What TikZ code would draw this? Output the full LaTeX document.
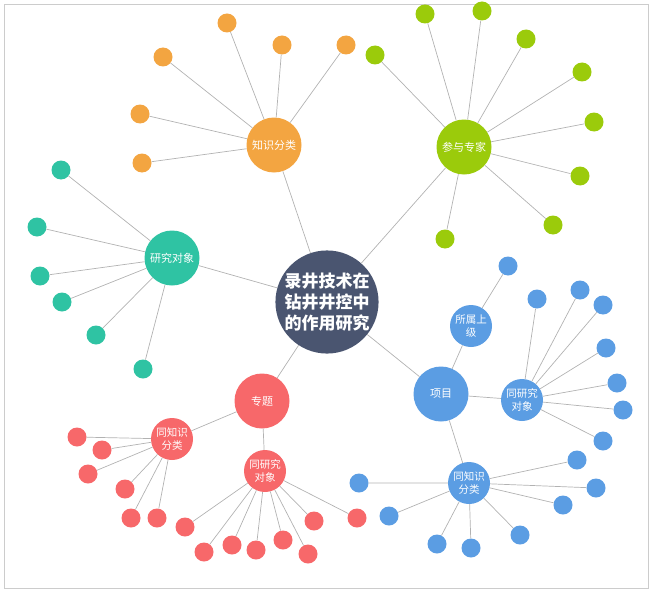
\documentclass[tikz,border=0pt]{standalone}
\usepackage{fontspec}
\setmainfont{Noto Sans CJK SC}
\usepackage{xcolor}
\usepackage{tikz}

\definecolor{coreblue}{HTML}{4A5570}
\definecolor{orangeC}{HTML}{F3A541}
\definecolor{greenC}{HTML}{9BCB0B}
\definecolor{tealC}{HTML}{2FC3A3}
\definecolor{redC}{HTML}{F7686A}
\definecolor{blueC}{HTML}{5B9DE3}

\begin{document}
\begin{tikzpicture}[x=1pt, y=-1pt,
    core/.style={circle, fill=coreblue, text=white, minimum size=98pt, inner sep=0pt, align=center, font=\bfseries\fontsize{17}{21}\selectfont},
    hub/.style={circle, fill=#1, text=white, minimum size=55pt, inner sep=0pt, align=center, font=\fontsize{11}{14}\selectfont},
    sub/.style={circle, fill=#1, text=white, minimum size=42pt, inner sep=0pt, align=center, font=\fontsize{10.5}{13.5}\selectfont},
    leaf/.style={circle, fill=#1, minimum size=19pt, inner sep=0pt},
    link/.style={draw=black!30, line width=0.7pt}]

    \useasboundingbox (0,0) rectangle (652,591);
    \draw [black!20] (4,4) rectangle (648,588);

    \node [core] (core) at (327,302) {录井技术在\\钻井井控中\\的作用研究};

    % main branches
    \node [hub=orangeC] (know) at (274,145) {知识分类};
    \node [hub=greenC] (expert) at (464,147) {参与专家};
    \node [hub=tealC] (object) at (172,258) {研究对象};
    \node [hub=redC] (topic) at (262,401) {专题};
    \node [hub=blueC] (project) at (441,394) {项目};

    \node [sub=redC] (tknow) at (172,439) {同知识\\分类};
    \node [sub=redC] (tobj) at (265,471) {同研究\\对象};
    \node [sub=blueC] (pup) at (471,326) {所属上\\级};
    \node [sub=blueC] (pobj) at (522,400) {同研究\\对象};
    \node [sub=blueC] (pknow) at (469,483) {同知识\\分类};

    % leaves
    \node [leaf=orangeC] (know1) at (227,23) {};
    \node [leaf=orangeC] (know2) at (282,45) {};
    \node [leaf=orangeC] (know3) at (346,45) {};
    \node [leaf=orangeC] (know4) at (163,57) {};
    \node [leaf=orangeC] (know5) at (140,114) {};
    \node [leaf=orangeC] (know6) at (142,163) {};

    \node [leaf=greenC] (expert1) at (425,14) {};
    \node [leaf=greenC] (expert2) at (482,11) {};
    \node [leaf=greenC] (expert3) at (526,39) {};
    \node [leaf=greenC] (expert4) at (375,55) {};
    \node [leaf=greenC] (expert5) at (582,72) {};
    \node [leaf=greenC] (expert6) at (594,122) {};
    \node [leaf=greenC] (expert7) at (580,176) {};
    \node [leaf=greenC] (expert8) at (553,225) {};
    \node [leaf=greenC] (expert9) at (445,239) {};

    \node [leaf=tealC] (object1) at (61,170) {};
    \node [leaf=tealC] (object2) at (37,227) {};
    \node [leaf=tealC] (object3) at (40,276) {};
    \node [leaf=tealC] (object4) at (62,302) {};
    \node [leaf=tealC] (object5) at (96,335) {};
    \node [leaf=tealC] (object6) at (143,369) {};

    \node [leaf=redC] (tknow1) at (77,437) {};
    \node [leaf=redC] (tknow2) at (102,450) {};
    \node [leaf=redC] (tknow3) at (88,474) {};
    \node [leaf=redC] (tknow4) at (125,489) {};
    \node [leaf=redC] (tknow5) at (131,518) {};
    \node [leaf=redC] (tknow6) at (157,518) {};

    \node [leaf=redC] (tobj1) at (185,527) {};
    \node [leaf=redC] (tobj2) at (204,552) {};
    \node [leaf=redC] (tobj3) at (232,545) {};
    \node [leaf=redC] (tobj4) at (256,550) {};
    \node [leaf=redC] (tobj5) at (283,540) {};
    \node [leaf=redC] (tobj6) at (308,554) {};
    \node [leaf=redC] (tobj7) at (314,521) {};
    \node [leaf=redC] (tobj8) at (357,518) {};

    \node [leaf=blueC] (pup1) at (508,266) {};

    \node [leaf=blueC] (pobj1) at (537,299) {};
    \node [leaf=blueC] (pobj2) at (580,290) {};
    \node [leaf=blueC] (pobj3) at (603,305) {};
    \node [leaf=blueC] (pobj4) at (606,348) {};
    \node [leaf=blueC] (pobj5) at (617,383) {};
    \node [leaf=blueC] (pobj6) at (623,410) {};
    \node [leaf=blueC] (pobj7) at (603,441) {};

    \node [leaf=blueC] (pknow1) at (359,483) {};
    \node [leaf=blueC] (pknow2) at (389,516) {};
    \node [leaf=blueC] (pknow3) at (437,544) {};
    \node [leaf=blueC] (pknow4) at (471,548) {};
    \node [leaf=blueC] (pknow5) at (520,535) {};
    \node [leaf=blueC] (pknow6) at (563,505) {};
    \node [leaf=blueC] (pknow7) at (596,488) {};
    \node [leaf=blueC] (pknow8) at (577,460) {};

    % links
    \draw [link] (core) -- (know);
    \draw [link] (core) -- (expert);
    \draw [link] (core) -- (object);
    \draw [link] (core) -- (topic);
    \draw [link] (core) -- (project);

    \draw [link] (topic) -- (tknow);
    \draw [link] (topic) -- (tobj);
    \draw [link] (project) -- (pup);
    \draw [link] (project) -- (pobj);
    \draw [link] (project) -- (pknow);

    \draw [link] (know) -- (know1) (know) -- (know2) (know) -- (know3)
        (know) -- (know4) (know) -- (know5) (know) -- (know6);
    \draw [link] (expert) -- (expert1) (expert) -- (expert2) (expert) -- (expert3)
        (expert) -- (expert4) (expert) -- (expert5) (expert) -- (expert6)
        (expert) -- (expert7) (expert) -- (expert8) (expert) -- (expert9);
    \draw [link] (object) -- (object1) (object) -- (object2) (object) -- (object3)
        (object) -- (object4) (object) -- (object5) (object) -- (object6);
    \draw [link] (tknow) -- (tknow1) (tknow) -- (tknow2) (tknow) -- (tknow3)
        (tknow) -- (tknow4) (tknow) -- (tknow5) (tknow) -- (tknow6);
    \draw [link] (tobj) -- (tobj1) (tobj) -- (tobj2) (tobj) -- (tobj3) (tobj) -- (tobj4)
        (tobj) -- (tobj5) (tobj) -- (tobj6) (tobj) -- (tobj7) (tobj) -- (tobj8);
    \draw [link] (pup) -- (pup1);
    \draw [link] (pobj) -- (pobj1) (pobj) -- (pobj2) (pobj) -- (pobj3) (pobj) -- (pobj4)
        (pobj) -- (pobj5) (pobj) -- (pobj6) (pobj) -- (pobj7);
    \draw [link] (pknow) -- (pknow1) (pknow) -- (pknow2) (pknow) -- (pknow3) (pknow) -- (pknow4)
        (pknow) -- (pknow5) (pknow) -- (pknow6) (pknow) -- (pknow7) (pknow) -- (pknow8);

\end{tikzpicture}
\end{document}
